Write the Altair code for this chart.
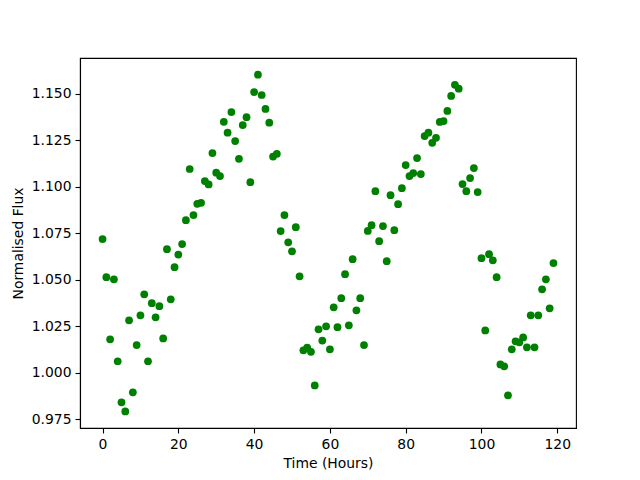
import altair as alt
import pandas as pd

hours = list(range(120))
flux = [
    1.0718, 1.0513, 1.0179, 1.0502, 1.0061, 0.9840, 0.9791, 1.0281, 0.9894, 1.0148,
    1.0308, 1.0421, 1.0061, 1.0373, 1.0297, 1.0357, 1.0184, 1.0664, 1.0394, 1.0567,
    1.0635, 1.0691, 1.0820, 1.1095, 1.0847, 1.0908, 1.0913, 1.1030, 1.1012, 1.1181,
    1.1075, 1.1057, 1.1349, 1.1290, 1.1401, 1.1245, 1.1150, 1.1331, 1.1374, 1.1024,
    1.1509, 1.1602, 1.1493, 1.1418, 1.1344, 1.1162, 1.1177, 1.0761, 1.0847, 1.0701,
    1.0652, 1.0782, 1.0518, 1.0120, 1.0134, 1.0112, 0.9931, 1.0233, 1.0172, 1.0249,
    1.0125, 1.0351, 1.0244, 1.0400, 1.0529, 1.0254, 1.0610, 1.0335, 1.0400, 1.0148,
    1.0762, 1.0793, 1.0976, 1.0707, 1.0788, 1.0599, 1.0954, 1.0766, 1.0906, 1.0992,
    1.1116, 1.1057, 1.1073, 1.1154, 1.1068, 1.1272, 1.1290, 1.1236, 1.1263, 1.1348,
    1.1353, 1.1407, 1.1488, 1.1548, 1.1527, 1.1014, 1.0976, 1.1046, 1.1100, 1.0971,
    1.0615, 1.0227, 1.0637, 1.0604, 1.0513, 1.0044, 1.0034, 0.9878, 1.0125, 1.0168,
    1.0163, 1.0189, 1.0136, 1.0308, 1.0136, 1.0308, 1.0448, 1.0502, 1.0346, 1.0589,
]
x_ticks = [0, 20, 40, 60, 80, 100, 120]
y_ticks = [0.975, 1.000, 1.025, 1.050, 1.075, 1.100, 1.125, 1.150]

df = pd.DataFrame({"Time": hours, "Flux": flux})

FONT = "DejaVu Sans"
axis_common = dict(
    labelFont=FONT, labelFontSize=13.9, labelColor="black",
    titleFont=FONT, titleFontSize=13.9, titleColor="black", titleFontWeight="normal",
    tickColor="black", tickWidth=1.1, tickSize=5, labelPadding=4,
    domain=True, domainColor="black", domainWidth=1.1, grid=False,
)

chart = alt.Chart(df).mark_circle(size=60, opacity=1, color="#008000").encode(
    x=alt.X("Time:Q", title="Time (Hours)",
            scale=alt.Scale(domain=[-5.95, 124.95], nice=False, zero=False),
            axis=alt.Axis(values=x_ticks, format="d", titlePadding=6, **axis_common)),
    y=alt.Y("Flux:Q", title="Normalised Flux",
            scale=alt.Scale(domain=[0.9702, 1.1692], nice=False, zero=False),
            axis=alt.Axis(values=y_ticks, format=".3f", titlePadding=6, **axis_common)),
).properties(
    width=496, height=370,
    background="white",
    autosize=alt.AutoSizeParams(type="none"),
    padding={"left": 72, "top": 50, "right": 56, "bottom": 45},
).configure_view(
    stroke="black", strokeWidth=1.1
)

chart.save("out.html", embed_options={"renderer": "svg", "actions": False})
